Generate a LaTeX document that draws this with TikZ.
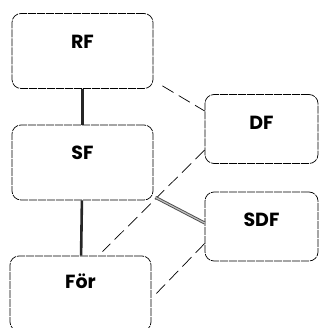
\documentclass[tikz,border=0pt]{standalone}
\usepackage{fontspec}
\newfontfamily\boxfont{Poppins}
\begin{document}
\begin{tikzpicture}[
  x=1pt, y=-1pt,
  box/.style={draw=black, rounded corners=9pt, line width=0.7pt,
              dash pattern=on 8pt off 1pt, minimum width=141pt, minimum height=75pt},
  sbox/.style={box, minimum width=113pt, minimum height=69pt},
  txt/.style={font=\boxfont\bfseries\fontsize{19}{21}\selectfont, anchor=base, inner sep=0pt},
  solid link/.style={line width=2.6pt, black!85},
  dash link/.style={line width=0.7pt, dash pattern=on 13pt off 6pt},
  dbl link/.style={draw=black!70, double=black!25, line width=0.9pt, double distance=1.2pt}
]
\useasboundingbox (0,0) rectangle (321,328);

% --- boxes ---
\node[box]  (RF)  at (82.5,51)    {};
\node[box]  (SF)  at (82.5,162.5) {};
\node[box]  (For) at (80.5,293.5) {};
\node[sbox] (DF)  at (261.5,129)  {};
\node[sbox] (SDF) at (261.5,226.5){};

% --- titles near the top of each box ---
\node[txt] (RFt)  at ([yshift=-35pt]RF.north)  {RF};
\node[txt] (SFt)  at ([yshift=-35pt]SF.north)  {SF};
\node[txt] (Fort) at ([yshift=-33pt]For.north) {För};
\node[txt] (DFt)  at ([yshift=-35pt]DF.north)  {DF};
\node[txt] (SDFt) at ([yshift=-35pt]SDF.north) {SDF};

% --- solid links ---
\draw[solid link] (RF) -- (SF);
\draw[solid link] (SF) -- (For);

% --- dashed links ---
\draw[dash link] ([xshift=9pt,yshift=3pt]RF.south east) -- ([yshift=18pt]DF.west);
\draw[dash link] ([yshift=-21pt]DF.west) -- ([xshift=22pt,yshift=4pt]For.north);
\draw[dash link] ([yshift=-17pt]SDF.west) -- ([xshift=5pt]For.east);

% --- double link ---
\draw[dbl link] ([xshift=2pt,yshift=3pt]SF.south east) -- ([yshift=3.5pt]SDF.west);

\end{tikzpicture}
\end{document}
